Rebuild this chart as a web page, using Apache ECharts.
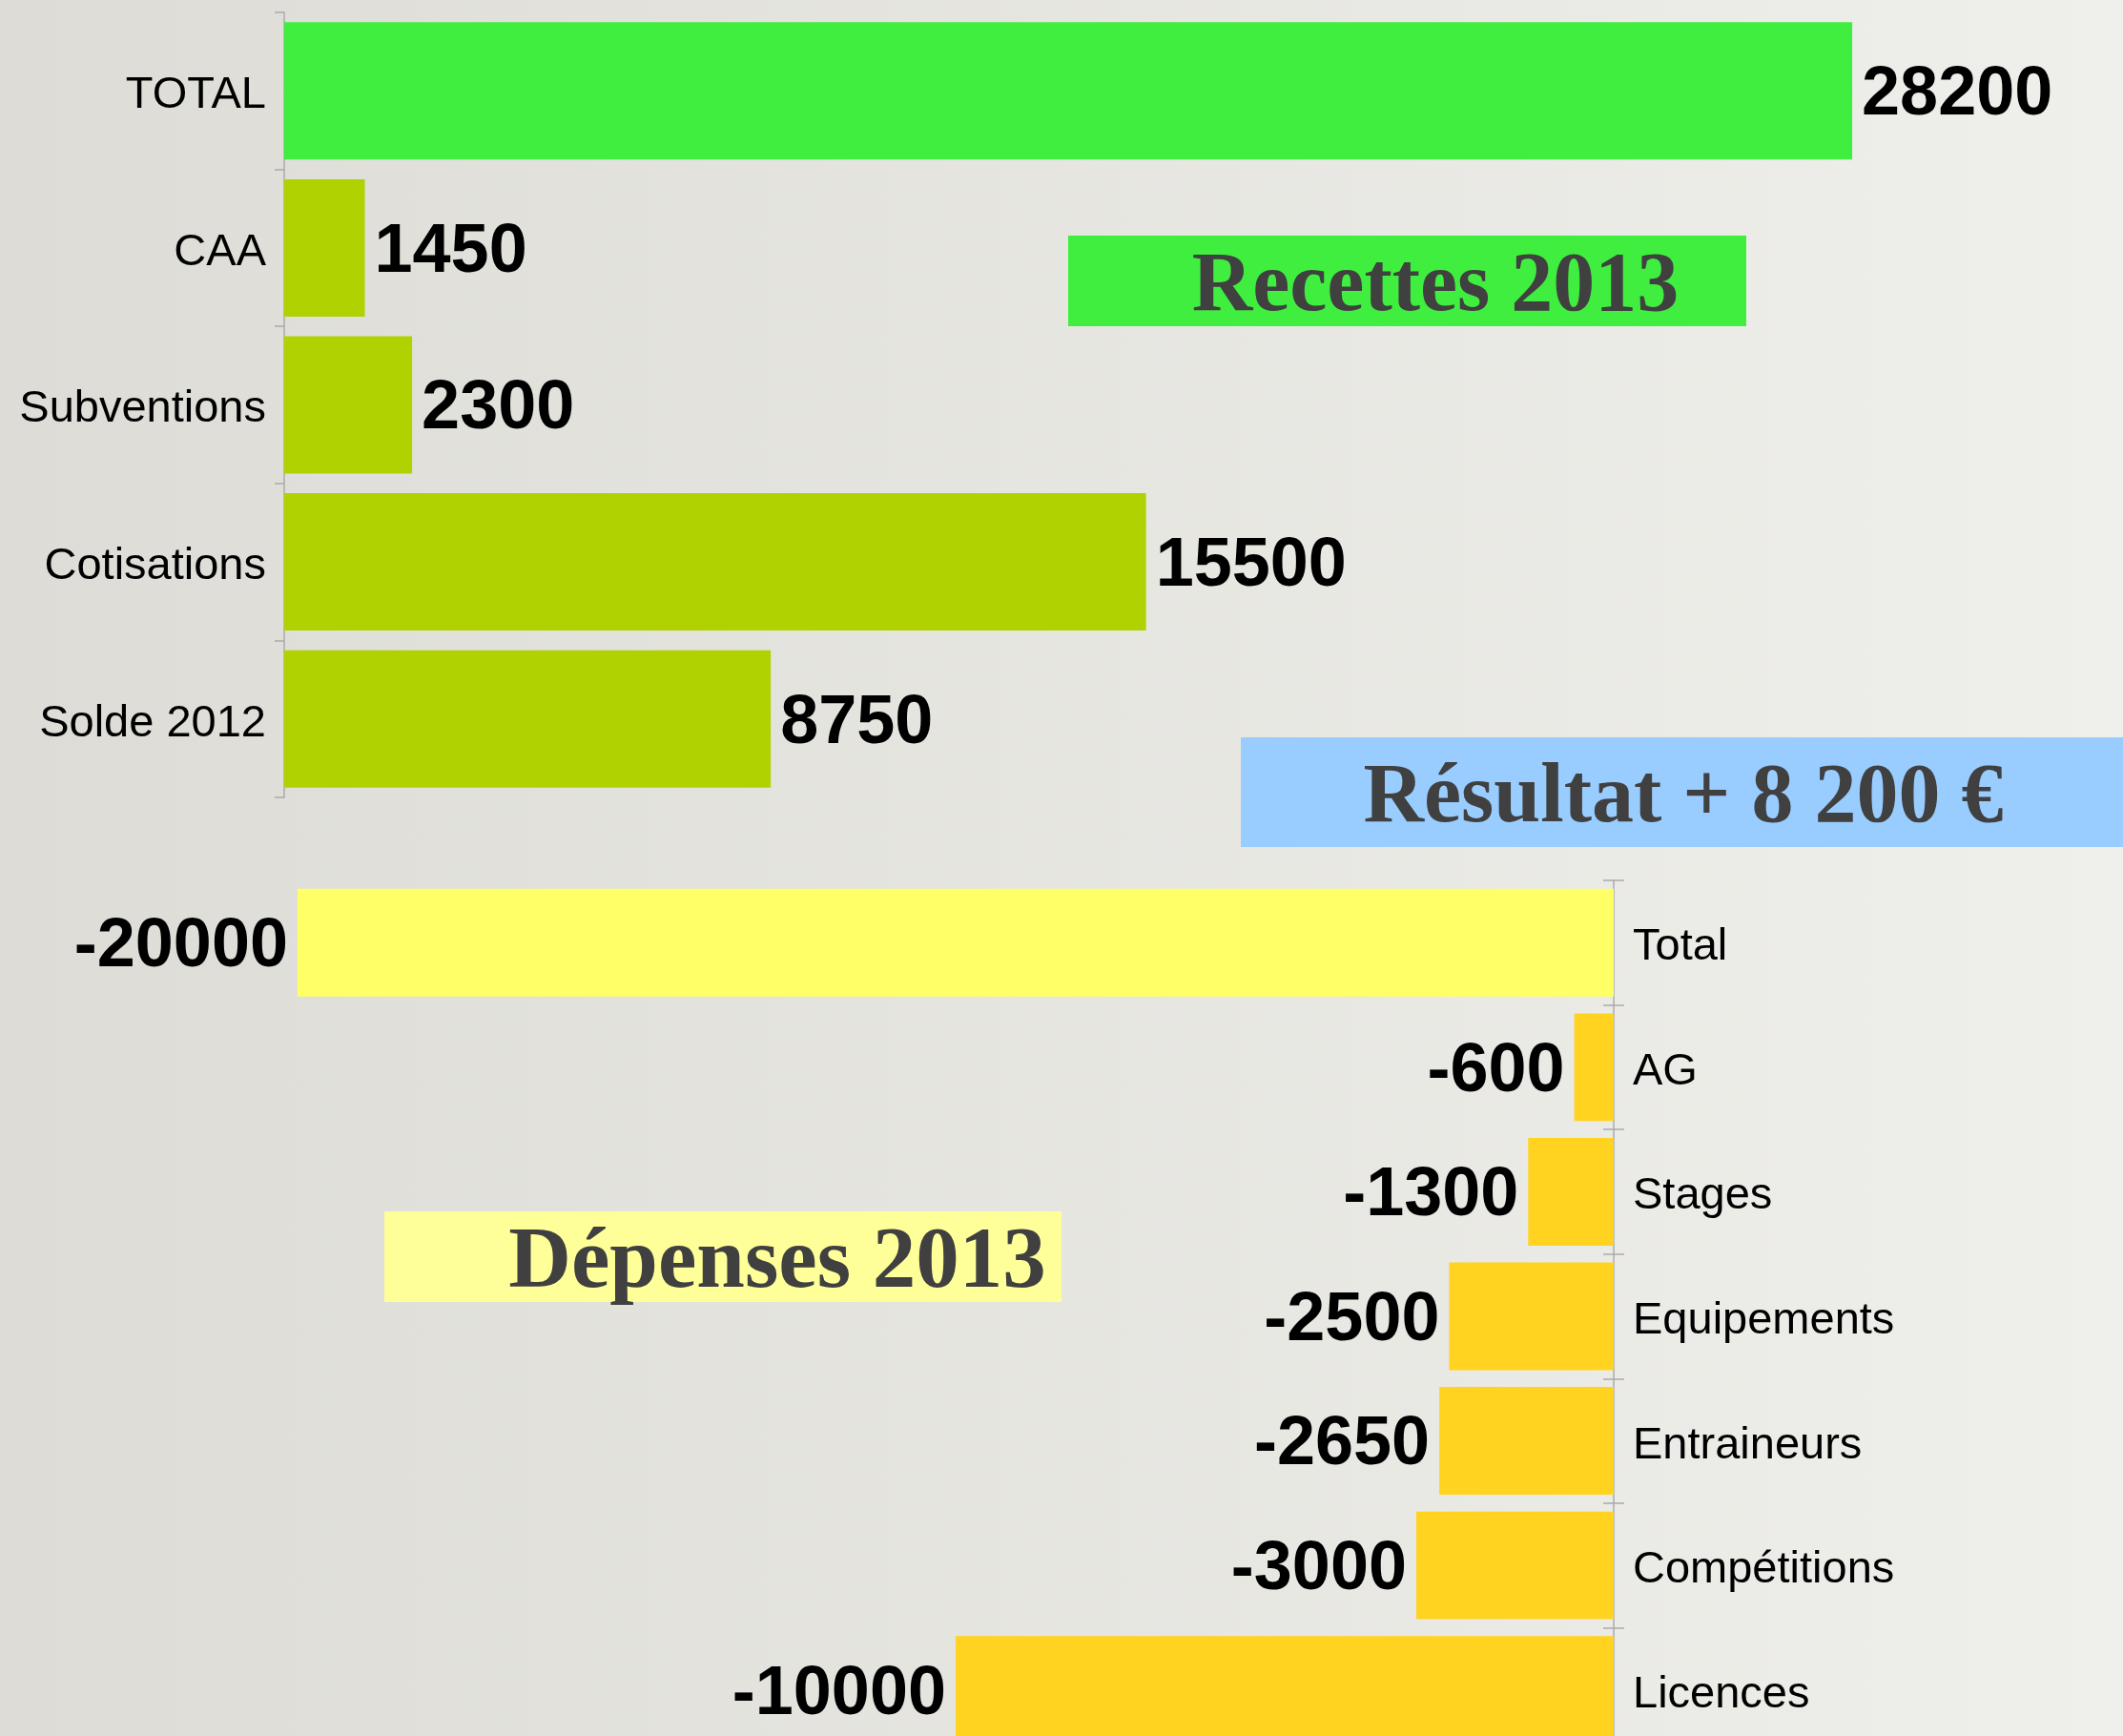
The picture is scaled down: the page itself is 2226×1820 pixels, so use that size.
<!DOCTYPE html>
<html>
<head>
<meta charset="utf-8">
<title>Budget 2013</title>
<script src="https://cdn.jsdelivr.net/npm/echarts@6/dist/echarts.min.js"></script>
<style>
  html, body { margin: 0; padding: 0; }
  #chart { width: 2226px; height: 1820px; }
</style>
</head>
<body>
<div id="chart"></div>
<script>
// recettes (haut)
const recetteCats = ['TOTAL', 'CAA', 'Subventions', 'Cotisations', 'Solde 2012']
const recetteVals = [28200, 1450, 2300, 15500, 8750]

// dépenses (bas)
const depenseCats = ['Total', 'AG', 'Stages', 'Equipements', 'Entraineurs', 'Compétitions', 'Licences']
const depenseVals = [-20000, -600, -1300, -2500, -2650, -3000, -10000]

const titles = {
  recettes: 'Recettes 2013',
  resultat: 'Résultat + 8 200 €',
  depenses: 'Dépenses 2013'
}

const sans = '"Liberation Sans", Arial, sans-serif'
const serif = '"Liberation Serif", "Times New Roman", serif'
const axisGrey = '#ababab'

const chart = echarts.init(document.getElementById('chart'))

// boite de titre : rectangle + texte
function titleBox (x, y, w, h, fill, text, cx, cy, size) {
  return {
    type: 'group',
    children: [
      { type: 'rect', shape: { x: x, y: y, width: w, height: h }, style: { fill: fill } },
      {
        type: 'text',
        style: {
          x: cx,
          y: cy,
          text: text,
          fill: '#404040',
          font: 'bold ' + size + 'px ' + serif,
          align: 'center',
          verticalAlign: 'middle'
        }
      }
    ]
  }
}

// libellé de catégorie un peu plus bas (comme la référence)
const catLabel = {
  formatter: '{a|{value}}',
  rich: { a: { color: '#000', fontSize: 47, fontFamily: sans, padding: [10, 0, 0, 0] } }
}

const option = {
  backgroundColor: {
    type: 'linear', x: 0, y: 0, x2: 1, y2: 0,
    colorStops: [
      { offset: 0, color: '#dddcd6' },
      { offset: 1, color: '#efefeb' }
    ]
  },
  animation: false,
  textStyle: { fontFamily: sans },
  grid: [
    { left: 298, top: 13, width: 1749, height: 823, outerBoundsMode: 'none' },
    { left: 36, top: 923, width: 1656, height: 914, outerBoundsMode: 'none' }
  ],
  xAxis: [
    { gridIndex: 0, type: 'value', min: 0, max: 30000, show: false },
    { gridIndex: 1, type: 'value', min: -24000, max: 0, show: false }
  ],
  yAxis: [
    {
      gridIndex: 0,
      type: 'category',
      inverse: true,
      data: recetteCats,
      axisLine: { lineStyle: { color: axisGrey, width: 1.5 } },
      axisTick: { show: true, length: 10, lineStyle: { color: axisGrey, width: 1.5 } },
      axisLabel: Object.assign({ margin: 19 }, catLabel),
      splitLine: { show: false }
    },
    {
      gridIndex: 1,
      type: 'category',
      position: 'right',
      inverse: true,
      data: depenseCats,
      axisLine: { lineStyle: { color: axisGrey, width: 1.5 } },
      axisTick: { show: true, length: 11, lineStyle: { color: axisGrey, width: 1.5 } },
      axisLabel: Object.assign({ margin: 20 }, catLabel),
      splitLine: { show: false }
    },
    {
      // ticks vers l'intérieur (croix sur l'axe)
      gridIndex: 1,
      type: 'category',
      position: 'right',
      inverse: true,
      data: depenseCats,
      axisLine: { show: false },
      axisTick: { show: true, inside: true, length: 11, lineStyle: { color: axisGrey, width: 1.5 } },
      axisLabel: { show: false },
      splitLine: { show: false }
    }
  ],
  series: [
    {
      name: 'Recettes',
      type: 'bar',
      xAxisIndex: 0,
      yAxisIndex: 0,
      data: recetteVals,
      barCategoryGap: '12.5%',
      itemStyle: {
        color: (p) => p.dataIndex === 0 ? '#3fee3f' : '#b0d200'
      },
      label: {
        show: true,
        position: 'right',
        distance: 10,
        offset: [0, 5],
        color: '#000',
        fontSize: 72,
        fontWeight: 'bold',
        fontFamily: sans
      }
    },
    {
      name: 'Dépenses',
      type: 'bar',
      xAxisIndex: 1,
      yAxisIndex: 1,
      data: depenseVals,
      barCategoryGap: '13.5%',
      itemStyle: {
        color: (p) => p.dataIndex === 0 ? '#ffff66' : '#ffd320'
      },
      label: {
        show: true,
        position: 'left',
        distance: 10,
        offset: [0, 5],
        color: '#000',
        fontSize: 72,
        fontWeight: 'bold',
        fontFamily: sans
      }
    }
  ],
  graphic: [
    titleBox(1120, 247, 711, 95, '#3fee3f', titles.recettes, 1505, 302, 88),
    titleBox(1301, 773, 925, 115, '#99ccff', titles.resultat, 1765, 838, 88),
    titleBox(403, 1270, 710, 95, '#ffff99', titles.depenses, 815, 1325, 91)
  ]
}

chart.setOption(option)
</script>
</body>
</html>
